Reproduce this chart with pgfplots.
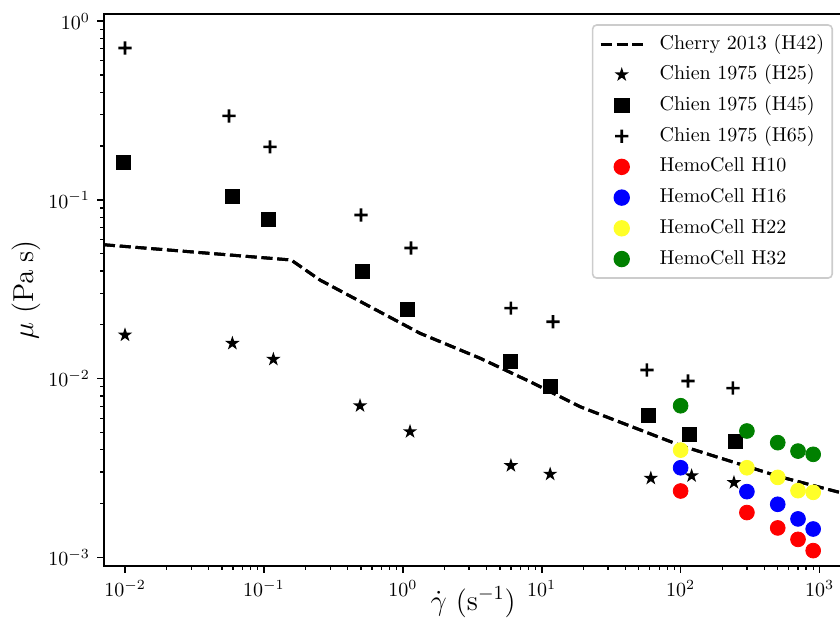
\documentclass[border=0pt]{standalone}
\usepackage{pgfplots}
\pgfplotsset{compat=1.18}
\usepackage{pgfplotstable}
\usetikzlibrary{plotmarks}

\definecolor{hcgreen}{RGB}{0,128,0}
\definecolor{hcyellow}{RGB}{255,255,40}
\definecolor{legframe}{RGB}{204,204,204}

% filled five-pointed star, like matplotlib's '*'
\pgfdeclareplotmark{fstar}{%
  \pgfpathmoveto{\pgfpointpolar{90}{\pgfplotmarksize}}%
  \pgfpathlineto{\pgfpointpolar{126}{0.382\pgfplotmarksize}}%
  \pgfpathlineto{\pgfpointpolar{162}{\pgfplotmarksize}}%
  \pgfpathlineto{\pgfpointpolar{198}{0.382\pgfplotmarksize}}%
  \pgfpathlineto{\pgfpointpolar{234}{\pgfplotmarksize}}%
  \pgfpathlineto{\pgfpointpolar{270}{0.382\pgfplotmarksize}}%
  \pgfpathlineto{\pgfpointpolar{306}{\pgfplotmarksize}}%
  \pgfpathlineto{\pgfpointpolar{342}{0.382\pgfplotmarksize}}%
  \pgfpathlineto{\pgfpointpolar{18}{\pgfplotmarksize}}%
  \pgfpathlineto{\pgfpointpolar{54}{0.382\pgfplotmarksize}}%
  \pgfpathclose
  \pgfusepathqfill
}
% bold plus, like matplotlib's 'P'-ish '+' with thick strokes
\pgfdeclareplotmark{fplus}{%
  \pgfpathrectanglecorners{\pgfpoint{-\pgfplotmarksize}{-0.65pt}}{\pgfpoint{\pgfplotmarksize}{0.65pt}}%
  \pgfpathrectanglecorners{\pgfpoint{-0.65pt}{-\pgfplotmarksize}}{\pgfpoint{0.65pt}{\pgfplotmarksize}}%
  \pgfusepathqfill
}

\pgfplotstableread{
x y
0.00706 0.0561
0.157 0.0461
0.2535 0.0356
0.581 0.02525
1.33 0.01793
3.6 0.0130
8.24 0.00961
18.9 0.00696
100 0.00422
520 0.00282
1330 0.00233
1500 0.00228
}\cherry

\pgfplotstableread{
x y
0.0100 0.01754
0.0593 0.01575
0.117 0.01283
0.492 0.00705
1.127 0.00505
6.0 0.00326
11.5 0.00292
61 0.00277
120 0.00286
242 0.00262
}\chienA

\pgfplotstableread{
x y
0.0097 0.162
0.0592 0.104
0.108 0.0778
0.514 0.0396
1.08 0.0245
5.91 0.01244
11.5 0.0090
58.5 0.00625
115.6 0.00488
249 0.00444
}\chienB

\pgfplotstableread{
x y
0.0100 0.708
0.0561 0.295
0.1107 0.198
0.500 0.0823
1.146 0.0538
6.0 0.0248
12.06 0.0208
57.2 0.01117
113 0.0097
238 0.00885
}\chienC

\pgfplotstableread{
x y
100 0.00235
300 0.00178
500 0.00146
700 0.00126
900 0.00109
}\hcA

\pgfplotstableread{
x y
100 0.00317
300 0.00233
500 0.00198
700 0.00164
900 0.00144
}\hcB

\pgfplotstableread{
x y
100 0.00398
300 0.00317
500 0.00280
700 0.00236
900 0.00231
}\hcC

\pgfplotstableread{
x y
100 0.00705
300 0.00509
500 0.00438
700 0.00393
900 0.00377
}\hcD

\begin{document}
\begin{tikzpicture}
\begin{axis}[
  name=ax,
  xmode=log, ymode=log,
  scale only axis,
  width=369.1pt, height=275.9pt,
  xmin=7.06e-3, xmax=1456,
  ymin=8.94e-4, ymax=1.094,
  tick pos=left,
  tick align=outside,
  major tick length=3.5pt,
  minor tick length=2pt,
  axis line style={line width=0.8pt},
  major tick style={line width=0.8pt, black},
  minor tick style={line width=0.6pt, black},
  xtick={1e-2,1e-1,1,10,100,1000},
  ytick={1e-3,1e-2,1e-1,1},
  xlabel={$\dot{\gamma}\ (\mathrm{s}^{-1})$},
  ylabel={$\mu\ (\mathrm{Pa\;s})$},
  every axis x label/.style={at={(rel axis cs:0.5,0)}, yshift=-18pt, anchor=center, font=\fontsize{14}{17}\selectfont},
  every axis y label/.style={at={(rel axis cs:0,0.5)}, xshift=-39pt, rotate=90, anchor=center, font=\fontsize{14}{17}\selectfont},
  legend image code/.code={%
    \draw[mark repeat=2, mark phase=2, #1] plot coordinates {(0pt,0pt) (10.5pt,0pt) (21pt,0pt)};
    \path (28pt,0pt);},
  legend cell align=left,
  legend style={
    at={(rel axis cs:1,1)}, anchor=north east, xshift=-4.6pt, yshift=-5pt,
    draw=legframe, line width=0.8pt, rounded corners=2pt,
    fill=white,
    inner xsep=3.3pt, inner ysep=3.8pt,
    row sep=3.96pt,
    nodes={inner sep=0.7pt, text height=7.5pt, text depth=2.5pt},
  },
]
\addplot[black, line width=1.5pt, dash pattern=on 5.5pt off 2.4pt] table[x=x, y=y] {\cherry};
\addlegendentry{Cherry 2013 (H42)}
\addplot[only marks, mark=fstar, mark size=3.8pt, black] table[x=x, y=y] {\chienA};
\addlegendentry{Chien 1975 (H25)}
\addplot[only marks, mark=square*, mark size=3.5pt, black] table[x=x, y=y] {\chienB};
\addlegendentry{Chien 1975 (H45)}
\addplot[only marks, mark=fplus, mark size=3.3pt, black] table[x=x, y=y] {\chienC};
\addlegendentry{Chien 1975 (H65)}
\addplot[only marks, mark=*, mark size=3.7pt, red, mark options={draw=none, fill=red}] table[x=x, y=y] {\hcA};
\addlegendentry{HemoCell H10}
\addplot[only marks, mark=*, mark size=3.7pt, blue, mark options={draw=none, fill=blue}] table[x=x, y=y] {\hcB};
\addlegendentry{HemoCell H16}
\addplot[only marks, mark=*, mark size=3.7pt, hcyellow, mark options={draw=none, fill=hcyellow}] table[x=x, y=y] {\hcC};
\addlegendentry{HemoCell H22}
\addplot[only marks, mark=*, mark size=3.7pt, hcgreen, mark options={draw=none, fill=hcgreen}] table[x=x, y=y] {\hcD};
\addlegendentry{HemoCell H32}
% the dashed line lies over the markers in the reference
\addplot[forget plot, black, line width=1.5pt, dash pattern=on 5.5pt off 2.4pt] table[x=x, y=y] {\cherry};
\end{axis}
\pgfresetboundingbox
\path[use as bounding box] ([xshift=-52pt, yshift=-37.5pt]ax.south west) rectangle ([xshift=368pt, yshift=283pt]ax.south west);
\end{tikzpicture}
\end{document}
